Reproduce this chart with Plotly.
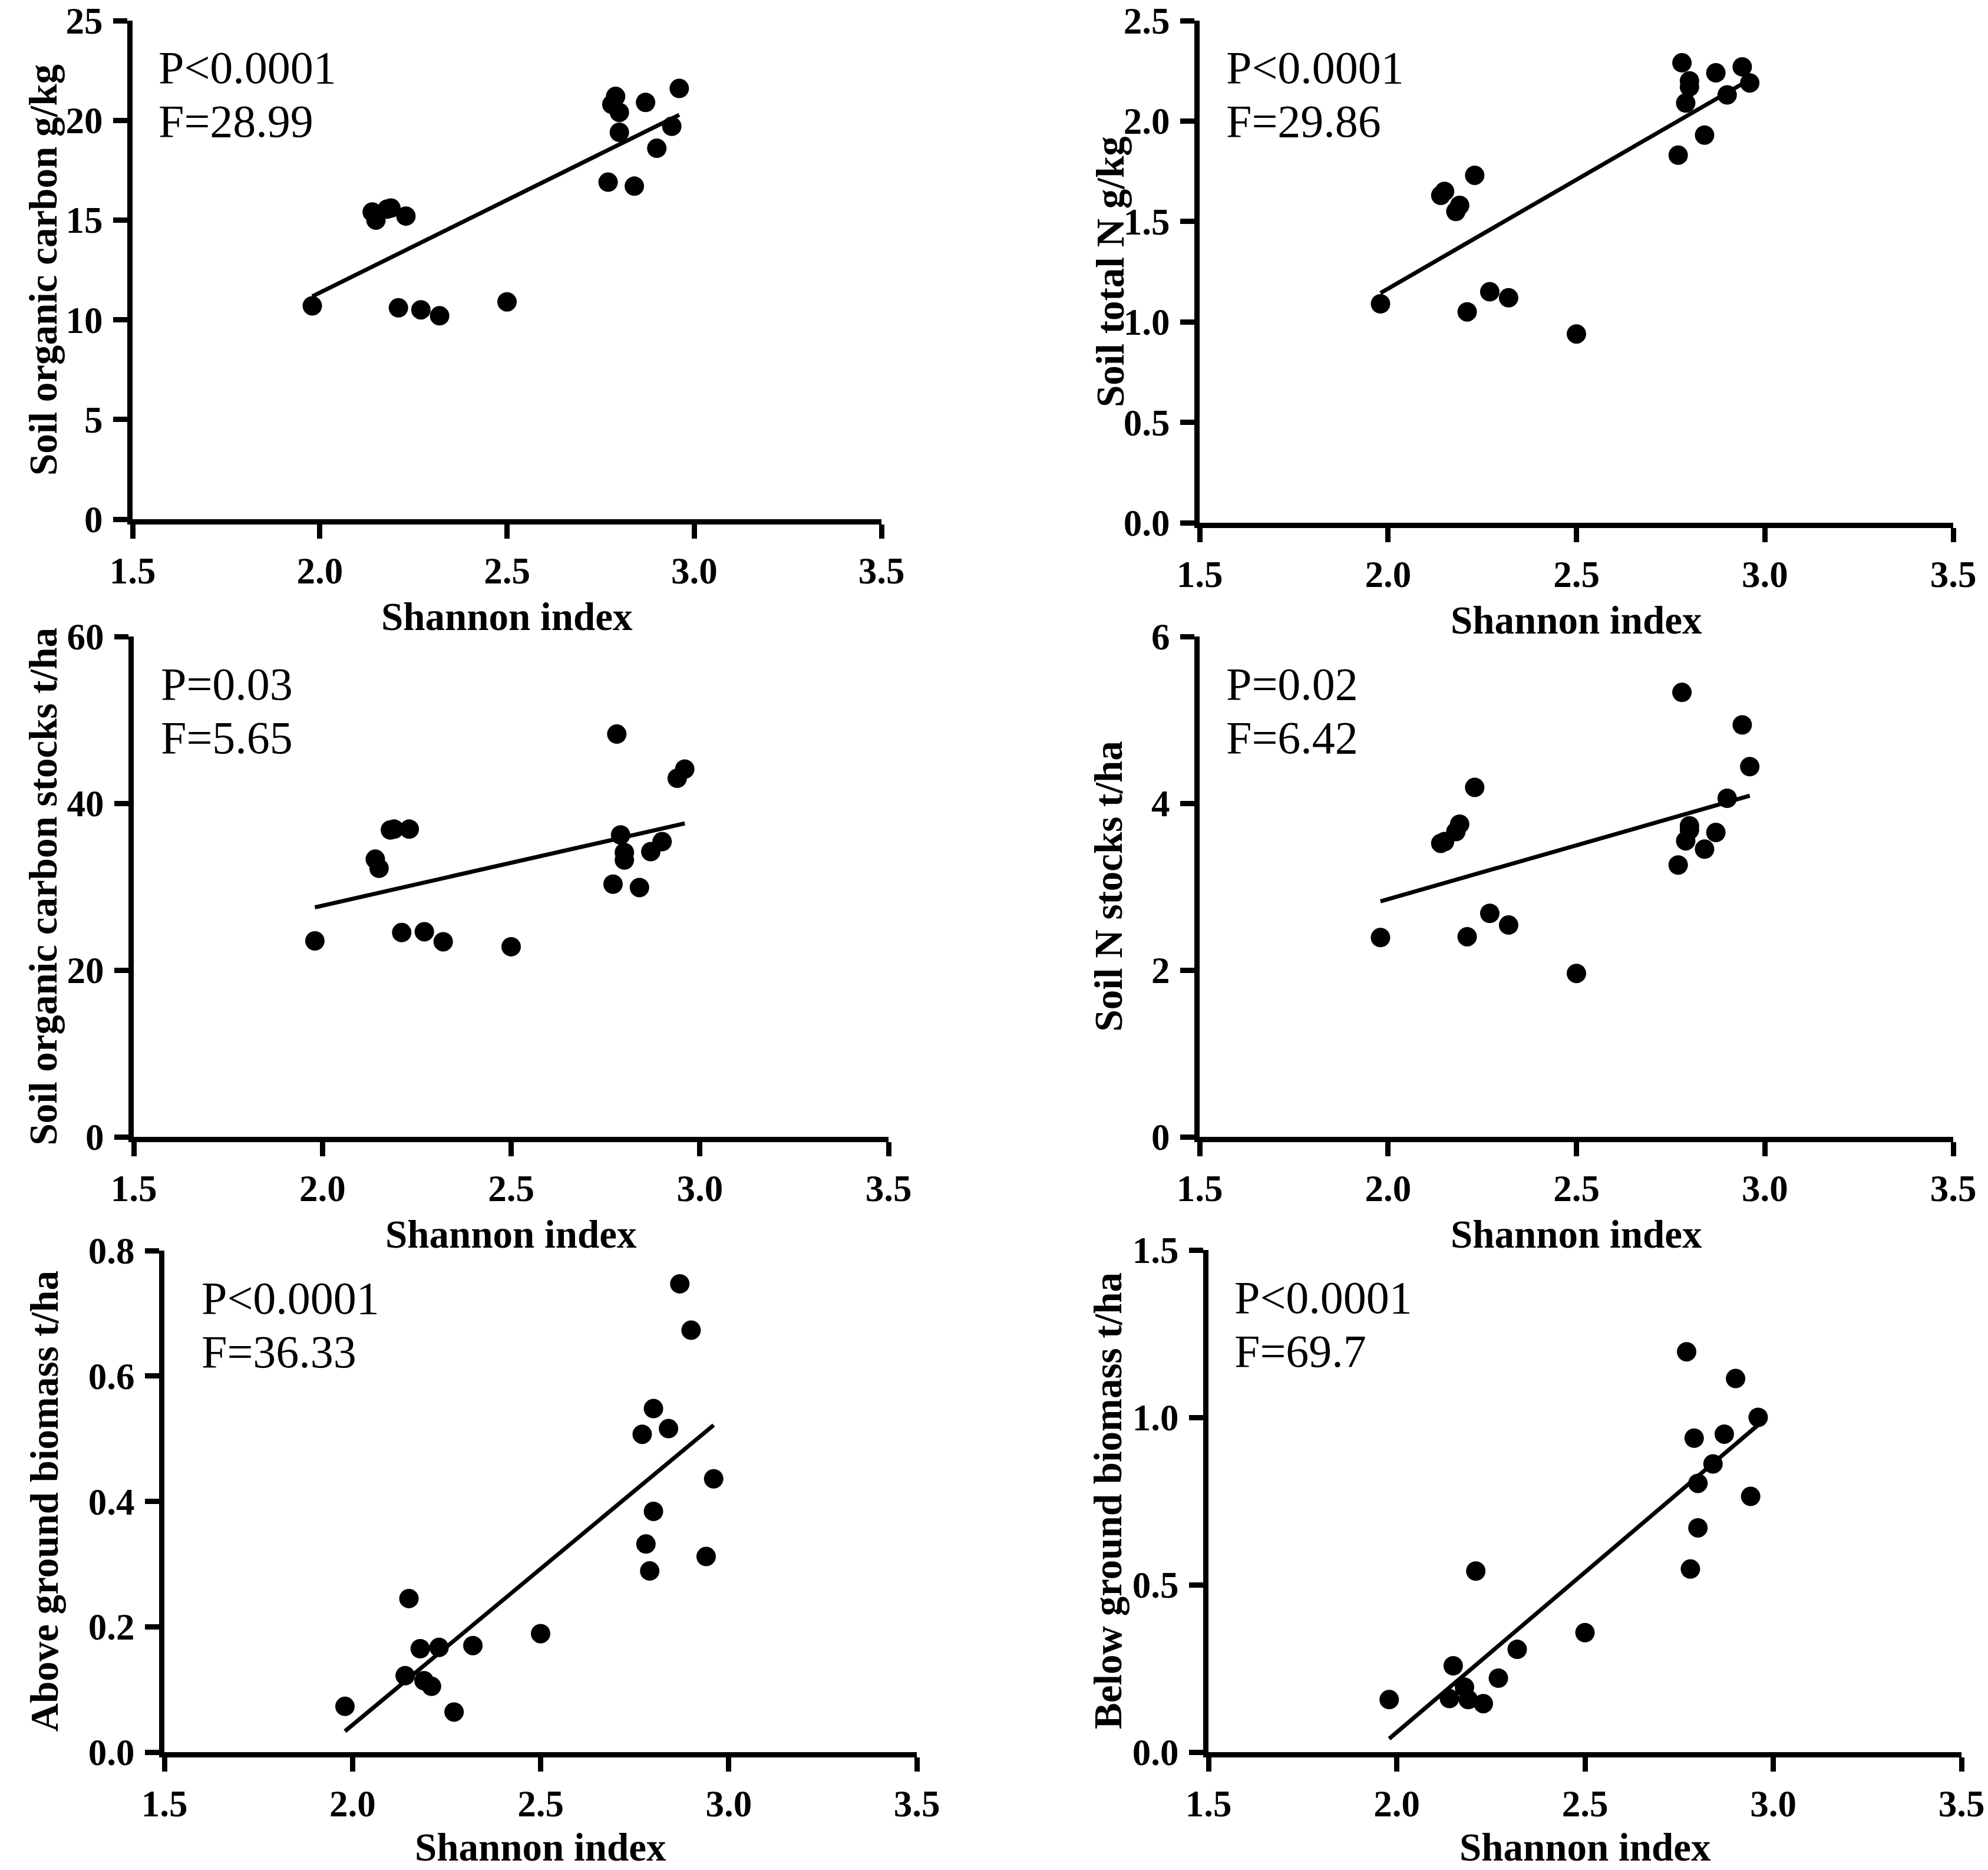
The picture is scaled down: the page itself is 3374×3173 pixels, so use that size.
import numpy as np
import plotly.graph_objects as go

# Shannon index of the 20 plots (shared x for every panel)
shannon = [1.98, 2.14, 2.15, 2.18, 2.19, 2.21, 2.23, 2.27, 2.32, 2.50,
           2.77, 2.78, 2.79, 2.80, 2.80, 2.84, 2.87, 2.90, 2.94, 2.96]

soc = [10.7, 15.4, 15.0, 15.55, 15.6, 10.6, 15.2, 10.5, 10.2, 10.9,
       16.9, 20.8, 21.2, 20.4, 19.4, 16.7, 20.9, 18.6, 19.7, 21.6]
total_n = [1.09, 1.63, 1.65, 1.55, 1.58, 1.05, 1.73, 1.15, 1.12, 0.94,
           1.83, 2.29, 2.09, 2.20, 2.17, 1.93, 2.24, 2.13, 2.27, 2.19]
soc_stock = [23.5, 33.3, 32.2, 36.8, 36.9, 24.5, 36.9, 24.6, 23.4, 22.8,
             30.3, 48.3, 36.2, 34.1, 33.2, 29.9, 34.2, 35.4, 43.0, 44.1]
n_stock = [2.39, 3.52, 3.54, 3.66, 3.75, 2.40, 4.19, 2.68, 2.54, 1.96,
           3.26, 5.33, 3.55, 3.73, 3.68, 3.45, 3.65, 4.06, 4.94, 4.44]
agb = [0.073, 0.122, 0.245, 0.165, 0.114, 0.105, 0.167, 0.064, 0.170, 0.189,
       0.507, 0.332, 0.289, 0.548, 0.384, 0.516, 0.747, 0.673, 0.312, 0.436]
bgb = [0.157, 0.160, 0.258, 0.194, 0.157, 0.541, 0.145, 0.221, 0.307, 0.357,
       1.196, 0.547, 0.938, 0.803, 0.670, 0.861, 0.950, 1.116, 0.764, 1.000]

y_titles = ["Soil organic carbon g/kg", "Soil total N g/kg",
            "Soil organic carbon stocks t/ha", "Soil N stocks t/ha",
            "Above ground biomass t/ha", "Below ground biomass t/ha"]
p_labels = ["P<0.0001", "P<0.0001", "P=0.03", "P=0.02", "P<0.0001", "P<0.0001"]
f_labels = ["F=28.99", "F=29.86", "F=5.65", "F=6.42", "F=36.33", "F=69.7"]
y_max = [25, 2.5, 60, 6, 0.8, 1.5]
y_step = [5, 0.5, 20, 2, 0.2, 0.5]
y_fmt = ["d", ".1f", "d", "d", ".1f", ".1f"]
x_ticks = [1.5, 2.0, 2.5, 3.0, 3.5]

series = [soc, total_n, soc_stock, n_stock, agb, bgb]

W, H = 3374, 3173
# plot boxes in pixels: left, right, top, bottom
boxes = [(225, 1496, 35, 881), (2036, 3315, 35, 887),
         (227, 1508, 1080, 1929), (2036, 3315, 1080, 1929),
         (279, 1556, 2122, 2973), (2051, 3329, 2121, 2973)]
ytitle_x = [73, 1884, 72, 1880, 74, 1880]
ann_dx = [42, 43, 44, 43, 61, 42]

FONT = "Liberation Serif"


def px(x):
    return x / W


def py(y):
    return 1 - y / H


fig = go.Figure()
annotations = []

for i, ys in enumerate(series):
    n = i + 1
    xa = "x" if n == 1 else f"x{n}"
    ya = "y" if n == 1 else f"y{n}"
    l, r, t, b = boxes[i]

    fig.add_trace(go.Scatter(
        x=shannon, y=ys, mode="markers", xaxis=xa, yaxis=ya,
        marker=dict(color="black", size=33), cliponaxis=False, showlegend=False))

    k, c = np.polyfit(shannon, ys, 1)
    xf = [min(shannon), max(shannon)]
    fig.add_trace(go.Scatter(
        x=xf, y=[k * v + c for v in xf], mode="lines", xaxis=xa, yaxis=ya,
        line=dict(color="black", width=7), showlegend=False))

    axis_common = dict(
        showline=True, linecolor="black", linewidth=9, showgrid=False,
        zeroline=False, ticks="outside", ticklen=24, tickwidth=9,
        tickcolor="black", automargin=False, ticklabeloverflow="allow",
        tickfont=dict(family=FONT, size=63, color="black", weight="bold"))

    fig.update_layout(**{
        ("xaxis" if n == 1 else f"xaxis{n}"): dict(
            axis_common, domain=[px(l), px(r)], anchor=ya, range=[1.5, 3.5],
            tickvals=x_ticks, tickformat=".1f"),
        ("yaxis" if n == 1 else f"yaxis{n}"): dict(
            axis_common, domain=[py(b), py(t)], anchor=xa,
            range=[0, y_max[i]], dtick=y_step[i], tick0=0,
            tickformat=y_fmt[i], ticklabelstandoff=5),
    })

    # axis titles
    if i < 4:
        xt = dict(y=py(b + 165), yanchor="middle")
    else:
        xt = dict(y=0, yanchor="bottom")
    annotations.append(dict(
        x=px((l + r) / 2), xref="paper", yref="paper",
        text="<b>Shannon index</b>", showarrow=False, xanchor="center",
        font=dict(family=FONT, size=67, color="black"), **xt))
    annotations.append(dict(
        x=px(ytitle_x[i]), y=py((t + b) / 2), xref="paper", yref="paper",
        text=f"<b>{y_titles[i]}</b>", showarrow=False, textangle=-90,
        xanchor="center", yanchor="middle",
        font=dict(family=FONT, size=67, color="black")))

    # statistics text
    annotations.append(dict(
        x=px(l + ann_dx[i]), y=py(t + 80), xref="paper", yref="paper",
        text=p_labels[i], showarrow=False, xanchor="left", yanchor="middle",
        font=dict(family=FONT, size=78, color="black")))
    annotations.append(dict(
        x=px(l + ann_dx[i]), y=py(t + 171), xref="paper", yref="paper",
        text=f_labels[i], showarrow=False, xanchor="left", yanchor="middle",
        font=dict(family=FONT, size=78, color="black")))

fig.update_layout(
    width=W, height=H, margin=dict(l=0, r=0, t=0, b=0),
    paper_bgcolor="white", plot_bgcolor="white",
    annotations=annotations, font=dict(family=FONT))

fig.write_html("out.html", config={"displayModeBar": False},
               post_script="document.body.style.margin = '0';")
